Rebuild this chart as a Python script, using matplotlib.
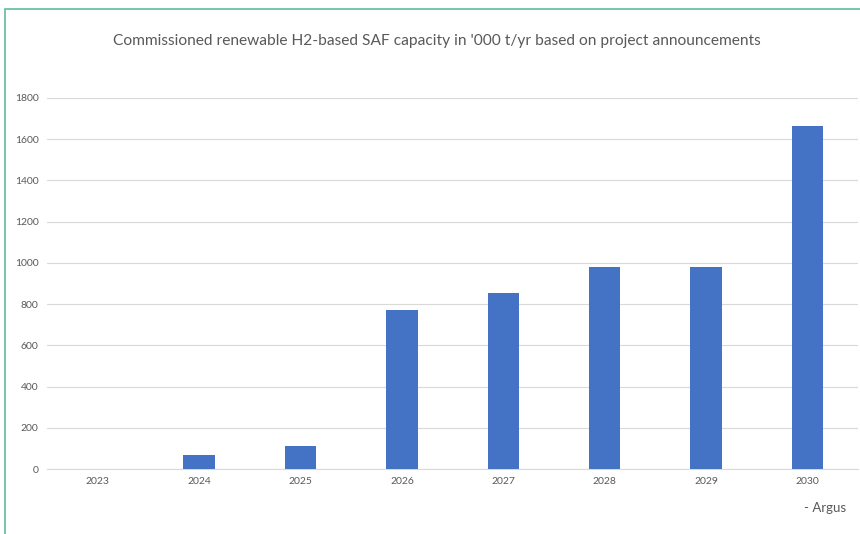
import numpy as np
import matplotlib
matplotlib.use("Agg")
import matplotlib.pyplot as plt
from matplotlib.patches import Rectangle

years = ["2023", "2024", "2025", "2026", "2027", "2028", "2029", "2030"]
capacity = [0, 68, 112, 771, 854, 980, 980, 1664]
yticks = [0, 200, 400, 600, 800, 1000, 1200, 1400, 1600, 1800]

plt.rcParams['font.family'] = ['Lato', 'DejaVu Sans']

fig = plt.figure(figsize=(8.6, 5.34), dpi=100)
ax = fig.add_axes([0.0547, 0.1217, 0.9433, 0.6948])

x = np.arange(len(years))
ax.bar(x, capacity, width=0.31, color="#4472C4", zorder=3)

ax.set_xlim(-0.5, len(years) - 0.5)
ax.set_ylim(0, 1800)
ax.set_xticks(x)
ax.set_xticklabels(years)
ax.set_yticks(yticks)
ax.tick_params(length=0, labelsize=7.5, colors="#595959", pad=6)
ax.grid(axis="y", color="#D9D9D9", linewidth=0.8, zorder=0)
for s in ["top", "right", "left"]:
    ax.spines[s].set_visible(False)
ax.spines["bottom"].set_color("#D9D9D9")

fig.text(0.508, 0.924, "Commissioned renewable H2-based SAF capacity in '000 t/yr based on project announcements",
         ha="center", va="center", fontsize=11.2, color="#595959")
fig.text(0.984, 0.048, "- Argus", ha="right", va="center", fontsize=9.5, color="#595959")

# teal frame, cut off at right and bottom
fig.add_artist(Rectangle((5 / 860, -0.1), 1.2, 1 - 9 / 534 + 0.1, transform=fig.transFigure,
                         fill=False, edgecolor="#5DBE9B", linewidth=1.2))

fig.savefig("out.png", dpi=100)
